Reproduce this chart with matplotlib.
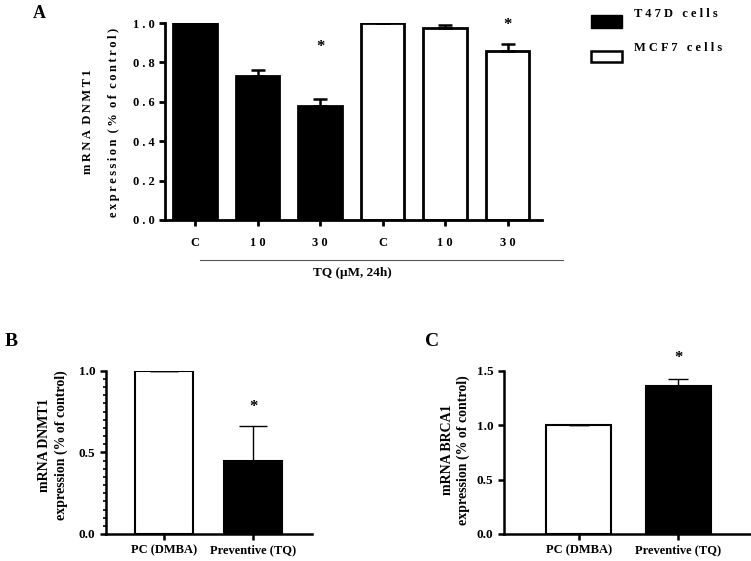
import matplotlib
matplotlib.use('Agg')
import matplotlib.pyplot as plt
from matplotlib.patches import Rectangle
from matplotlib.lines import Line2D
from matplotlib.ticker import MultipleLocator
import numpy as np

plt.rcParams['font.family'] = ['Liberation Serif', 'DejaVu Serif']
plt.rcParams['font.weight'] = 'bold'

# ---- data ----
a_labels = ['C', '10', '30', 'C', '10', '30']
t47d_vals = [1.0, 0.73, 0.58]
t47d_err = [0.0, 0.03, 0.033]
mcf7_vals = [1.0, 0.973, 0.858]
mcf7_err = [0.0, 0.015, 0.037]
a_stars = [0.88, 0.99]          # star heights over the 30 uM bars
a_ticks = [0.0, 0.2, 0.4, 0.6, 0.8, 1.0]

bc_labels = ['PC (DMBA)', 'Preventive (TQ)']
b_vals = [1.0, 0.45]
b_err = [0.0, 0.212]
b_star = 0.78
c_vals = [1.0, 1.362]
c_err = [0.0, 0.062]
c_star = 1.62

W, H = 751, 561


def sp(s, gap=' ', wgap='   '):
    # fake letter spacing like the original figure
    return wgap.join(gap.join(w) for w in s.split(' '))


def box(l, r, top, bot):
    return [l / W, 1 - bot / H, (r - l) / W, (bot - top) / H]


def style(ax, lw):
    for s in ['top', 'right']:
        ax.spines[s].set_visible(False)
    for s in ['left', 'bottom']:
        ax.spines[s].set_linewidth(lw)
    ax.tick_params(width=lw, length=4, direction='out')


fig = plt.figure(figsize=(W / 100, H / 100), dpi=100)

# ---- panel A ----
ax = fig.add_axes(box(165, 542, 23, 220))
style(ax, 2.0)
x = np.arange(6)
ax.bar(x[:3], t47d_vals, 0.7, color='black', edgecolor='black', linewidth=2)
ax.bar(x[3:], mcf7_vals, 0.7, color='white', edgecolor='black', linewidth=2)
ax.errorbar(x[:3], t47d_vals, yerr=[[0] * 3, t47d_err], fmt='none', ecolor='black',
            elinewidth=1.8, capsize=4.7, capthick=1.8)
ax.errorbar(x[3:], mcf7_vals, yerr=[[0] * 3, mcf7_err], fmt='none', ecolor='black',
            elinewidth=1.8, capsize=4.7, capthick=1.8)
for xi, yi in zip([2, 5], a_stars):
    ax.text(xi, yi, '*', ha='center', va='center', fontsize=12, clip_on=False)
ax.set_xlim(-0.48, 5.55)
ax.set_ylim(0, 1.0)
ax.set_yticks(a_ticks)
ax.set_yticklabels([sp('%.1f' % v) for v in a_ticks], fontsize=9)
ax.set_xticks(x)
ax.set_xticklabels([sp(s) for s in a_labels], fontsize=9)
ax.tick_params(axis='x', pad=8)
fig.text(88 / W, 1 - 121.5 / H, sp('mRNA DNMT1', '\u2009', '  '), rotation=90,
         fontsize=9, ha='center', va='center')
fig.text(114 / W, 1 - 122 / H, sp('expression (% of control)', '\u2009', '  '),
         rotation=90, fontsize=9, ha='center', va='center')
ax.add_line(Line2D([(200 - 165) / 377, (563 - 165) / 377], [-0.203, -0.203],
                   transform=ax.transAxes, color='#555555', lw=0.8, clip_on=False))
fig.text(352 / W, 1 - 273 / H, 'TQ (\u03bcM, 24h)', ha='center', va='center',
         fontsize=9.5)

# legend drawn by hand to match the offset text
fig.add_artist(Rectangle((591 / W, 1 - 28 / H), 31 / W, 13 / H, transform=fig.transFigure,
                         facecolor='black', edgecolor='black'))
fig.add_artist(Rectangle((591 / W, 1 - 62 / H), 31 / W, 11 / H, transform=fig.transFigure,
                         facecolor='white', edgecolor='black', linewidth=1.8))
fig.text(634 / W, 1 - 14 / H, sp('T47D cells'), fontsize=9, ha='left', va='center')
fig.text(634 / W, 1 - 48 / H, sp('MCF7 cells'), fontsize=9, ha='left', va='center')

fig.text(39 / W, 1 - 14 / H, 'A', fontsize=13, ha='center', va='center')

# ---- panel B ----
ax = fig.add_axes(box(106, 312, 370.7, 534))
style(ax, 1.8)
xb = np.arange(2)
ax.bar(xb, b_vals, 0.65, color=['white', 'black'], edgecolor='black', linewidth=1.5)
ax.errorbar(xb, b_vals, yerr=[[0, 0], b_err], fmt='none', ecolor='black',
            elinewidth=1.0, capsize=10, capthick=1.0)
ax.text(1, b_star, '*', ha='center', va='center', fontsize=12)
ax.set_xlim(-0.65, 1.66)
ax.set_ylim(0, 1.0)
ax.set_yticks([0, 0.5, 1.0])
ax.yaxis.set_minor_locator(MultipleLocator(0.05))
ax.tick_params(axis='y', which='minor', length=2.5, width=1.2)
ax.set_yticklabels(['0.0', '0.5', '1.0'], fontsize=9.5)
ax.set_xticks(xb)
ax.set_xticklabels(bc_labels, fontsize=9)
fig.text(45 / W, 1 - 445 / H, 'mRNA DNMT1', rotation=90, fontsize=10,
         ha='center', va='center')
fig.text(61 / W, 1 - 445 / H, 'expression (% of control)', rotation=90, fontsize=10,
         ha='center', va='center')
fig.text(11 / W, 1 - 342 / H, 'B', fontsize=14, ha='center', va='center')

# ---- panel C ----
ax = fig.add_axes(box(504, 750, 370.7, 534))
style(ax, 1.8)
ax.bar(xb, c_vals, 0.655, color=['white', 'black'], edgecolor='black', linewidth=1.5)
ax.errorbar(xb, c_vals, yerr=[[0, 0], c_err], fmt='none', ecolor='black',
            elinewidth=1.0, capsize=7, capthick=1.0)
ax.text(1, c_star, '*', ha='center', va='center', fontsize=12, clip_on=False)
ax.set_xlim(-0.75, 1.72)
ax.set_ylim(0, 1.5)
ax.set_yticks([0, 0.5, 1.0, 1.5])
ax.set_yticklabels(['0.0', '0.5', '1.0', '1.5'], fontsize=9.5)
ax.set_xticks(xb)
ax.set_xticklabels(bc_labels, fontsize=9)
fig.text(447 / W, 1 - 450 / H, 'mRNA BRCA1', rotation=90, fontsize=10,
         ha='center', va='center')
fig.text(463 / W, 1 - 450 / H, 'expression (% of control)', rotation=90, fontsize=10,
         ha='center', va='center')
fig.text(432 / W, 1 - 342 / H, 'C', fontsize=14, ha='center', va='center')

fig.savefig('out.png', dpi=100)
